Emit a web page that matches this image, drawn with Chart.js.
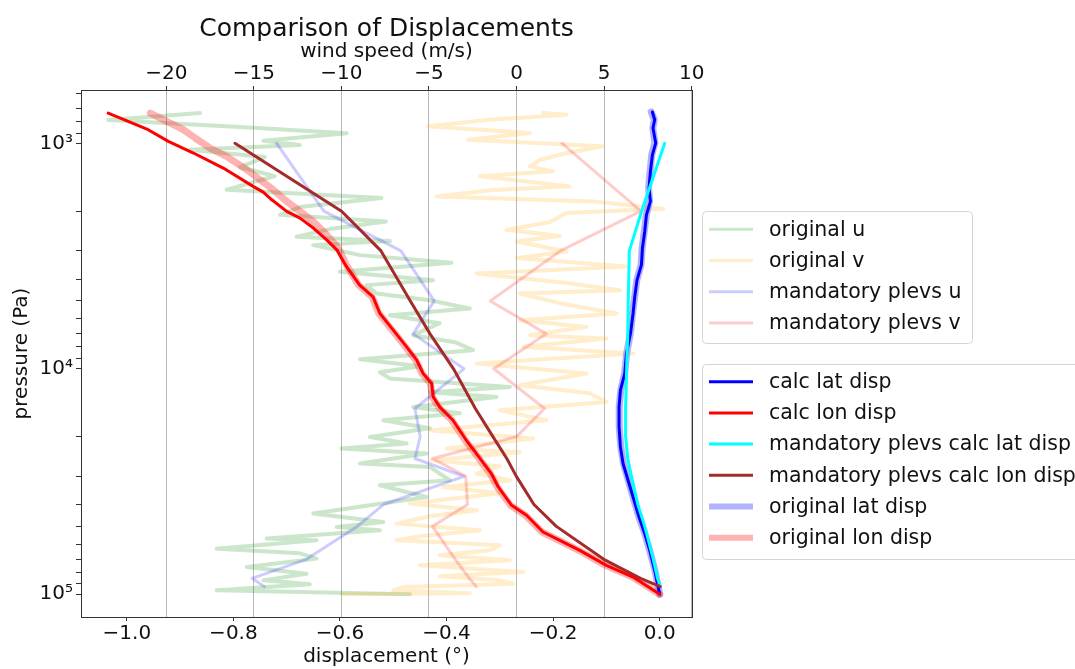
<!DOCTYPE html>
<html>
<head>
<meta charset="utf-8">
<script src="https://cdn.jsdelivr.net/npm/chart.js@4.4.0/dist/chart.umd.min.js"></script>
<style>
  html, body { margin: 0; padding: 0; background: #fff; }
  canvas { display: block; }
</style>
</head>
<body>
<canvas id="chart" width="1075" height="669"></canvas>
<script>
// Sounding winds (m/s) against pressure (Pa)
const origUPres = [734, 788, 847, 903, 974, 1017, 1068, 1150, 1274, 1397, 1607, 1749, 1918, 2075, 2220, 2401, 2593, 2714, 2828, 3132,
  3388, 3715, 4044, 4255, 4633, 4962, 5400, 5783, 6277, 7095, 7619, 8270, 9065, 9739, 10354, 11042, 12033, 12703, 13326, 14757,
  15741, 16912, 18347, 20063, 21462, 22590, 23770, 26320, 27250, 31220, 32860, 37030, 40310, 43870, 47820, 50320, 52050, 56650, 57660, 62770,
  65860, 69500, 75730, 81030, 86770, 90360, 96090, 100000];
const origU = [-18.07, -23.31, -15.79, -9.70, -14.46, -12.37, -18.65, -14.37, -15.79, -13.80, -16.55, -7.71, -12.37, -13.51, -7.46, -10.66, -12.56, -7.23, -11.61, -8.94,
  -3.71, -10.09, -4.76, -8.56, -7.99, -4.95, -2.67, -7.23, -4.38, -5.90, -3.52, -2.48, -8.94, -5.52, -7.80, -7.23, -0.38, -4.95, -1.14, -5.90,
  -3.24, -7.61, -4.95, -8.37, -6.28, -9.99, -5.14, -8.94, -4.95, -3.81, -7.80, -5.14, -8.37, -11.61, -7.61, -10.27, -7.80, -14.27, -11.42, -17.12,
  -12.37, -11.42, -15.41, -11.99, -14.46, -11.80, -17.12, -6.09];

const origVPres = [734, 747, 786, 840, 900, 964, 1031, 1104, 1186, 1265, 1331, 1401, 1552, 1612, 1719, 1809, 1951, 2039, 2236, 2418,
  2579, 2723, 3016, 3229, 3516, 3776, 4127, 4479, 4633, 5116, 5683, 6085, 6517, 7095, 7339, 7993, 8554, 9473, 10493, 11825,
  12832, 14027, 15270, 16912, 18731, 20395, 22590, 23450, 25450, 27060, 29150, 31220, 33430, 35650, 39620, 42430, 45110, 48610, 52050, 55340,
  57660, 60670, 63850, 67200, 70710, 74440, 79710, 83290, 86770, 89740, 92920, 96090, 99080, 100000];
const origV = [1.52, 2.85, -1.52, -5.05, 0.76, -2.76, 4.94, 2.85, 1.33, 0.76, 2.09, -2.09, 3.04, -1.34, -4.57, 4.37, 8.37, 2.85, 1.90, -0.57,
  2.47, 0.00, 2.85, 0.00, 6.28, -2.28, 2.47, 5.90, 0.19, 2.47, 5.71, 0.19, 4.00, 0.76, 5.14, 0.38, 6.66, -2.28, 4.00, 0.19,
  4.18, 5.14, -0.95, 1.71, -4.95, 0.95, -4.00, 0.19, -4.85, -0.95, -2.28, -0.38, -4.19, -0.95, -6.09, -2.28, -4.95, -6.85, -2.09, -5.52,
  -6.85, -0.95, -1.52, -4.38, -0.38, -5.52, 0.38, -4.38, -0.95, -0.19, -6.47, -7.04, -2.67, -9.99];

// Mandatory pressure levels
const mandPres = [1000, 2000, 3000, 5000, 7000, 10000, 15000, 20000, 25000, 30000, 40000, 50000, 70000, 85000, 92500];
const mandU = [-13.7, -11.0, -6.6, -4.7, -5.9, -3.0, -5.8, -5.5, -5.8, -3.0, -7.6, -9.1, -12.0, -15.1, -14.4];
const mandV = [2.6, 7.1, 2.5, -1.5, 1.7, -1.3, 1.6, 0.0, -4.8, -2.9, -2.8, -4.8, -3.5, -2.7, -2.3];
const mandCalcLat = [0.0094, -0.034, -0.057, -0.059, -0.060, -0.062, -0.064, -0.064, -0.060, -0.053, -0.041, -0.028, -0.012, -0.004, 0.001];
const mandCalcLon = [-0.797, -0.597, -0.523, -0.468, -0.431, -0.387, -0.346, -0.313, -0.287, -0.269, -0.236, -0.194, -0.105, -0.036, 0.001];

// Displacements (degrees)
const calcLatPres = [726, 786, 855, 997, 1124, 1331, 1579, 1809, 2075, 2459, 2915, 3458, 4044, 4797, 5683, 6971, 8554, 10493, 12445, 14757,
  18111, 22220, 26320, 31220, 37030, 45440, 53830, 63850, 78330, 100000];
const calcLat = [-0.0137, -0.0094, -0.0126, -0.0075, -0.0137, -0.0174, -0.0201, -0.0174, -0.0249, -0.0281, -0.0324, -0.0343, -0.0426, -0.0469, -0.0500, -0.0549, -0.0624, -0.0656, -0.0737, -0.0763,
  -0.0763, -0.0737, -0.0688, -0.0594, -0.0500, -0.0388, -0.0281, -0.0188, -0.0094, 0.0];
const origLat = [-0.016, -0.010, -0.013, -0.009, -0.015, -0.018, -0.021, -0.019, -0.025, -0.029, -0.033, -0.035, -0.043, -0.047, -0.051, -0.055, -0.062, -0.066, -0.073, -0.076,
  -0.076, -0.073, -0.068, -0.059, -0.050, -0.039, -0.028, -0.019, -0.009, 0.0];

const calcLonPres = [734, 870, 980, 1104, 1287, 1552, 1645, 1780, 2003, 2146, 2376, 2679, 2967, 3516, 4255, 4797, 5683, 6740, 7993, 9158,
  10493, 11619, 13326, 14757, 16912, 20749, 23766, 29150, 33430, 40310, 44650, 52950, 56650, 63850, 74440, 83870, 100000];
const calcLon = [-1.035, -0.960, -0.922, -0.875, -0.819, -0.763, -0.744, -0.728, -0.700, -0.675, -0.650, -0.625, -0.606, -0.588, -0.563, -0.538, -0.525, -0.500, -0.475, -0.456,
  -0.444, -0.428, -0.425, -0.413, -0.388, -0.363, -0.344, -0.316, -0.303, -0.278, -0.250, -0.219, -0.194, -0.150, -0.100, -0.050, 0.0];

const origLonPres = [734, 786, 870, 947, 1049, 1142, 1310, 1450, 1607, 1809, 2003, 2220, 2545, 2915, 3458, 4255, 4797, 5683, 6740, 7993,
  9158, 10493, 11619, 13326, 14757, 16912, 20749, 23766, 29150, 33430, 40310, 44650, 52950, 56650, 63850, 74440, 83870, 100000];
const origLon = [-0.956, -0.931, -0.894, -0.872, -0.844, -0.813, -0.775, -0.750, -0.725, -0.700, -0.675, -0.650, -0.625, -0.603, -0.588, -0.565, -0.540, -0.527, -0.502, -0.477,
  -0.458, -0.446, -0.430, -0.427, -0.415, -0.390, -0.365, -0.346, -0.318, -0.305, -0.280, -0.252, -0.221, -0.196, -0.152, -0.102, -0.051, 0.0];

// Axis ticks
const dispTicks = [-1.0, -0.8, -0.6, -0.4, -0.2, 0.0];
const windTicks = [-20, -15, -10, -5, 0, 5, 10];
const pressureTicks = [1000, 10000, 100000];
const pressureLabels = ['10\u00b3', '10\u2074', '10\u2075'];

const FONT = 'DejaVu Sans';
const TEXT = '#111';
const SPINE = '#333';
Chart.defaults.font.family = FONT;
Chart.defaults.color = TEXT;

const minus = (v, d) => (v < 0 ? '\u2212' : '') + Math.abs(v).toFixed(d);

// minor log ticks between 600 and 1e5
const yTickValues = [];
for (let dec = 100; dec <= 10000; dec *= 10) {
  for (let m = 1; m <= 9; m++) {
    const v = m * dec;
    if (v >= 600) yTickValues.push(v);
  }
}
yTickValues.push(100000);

function series(label, xs, ps, color, width, axis, order, group, legendWidth) {
  return {
    label, group, legendWidth,
    data: xs.map((v, i) => ({ x: v, y: ps[i] })),
    xAxisID: axis, yAxisID: 'y', order,
    borderColor: color, backgroundColor: color, borderWidth: width,
    showLine: true, pointRadius: 0, pointHoverRadius: 0, tension: 0,
    borderJoinStyle: 'round', borderCapStyle: 'round', fill: false
  };
}

const datasets = [
  series('original u', origU, origUPres, 'rgba(0,128,0,0.2)', 4, 'x2', 10, 1, 3),
  series('original v', origV, origVPres, 'rgba(255,165,0,0.2)', 4, 'x2', 9, 1, 3),
  series('mandatory plevs u', mandU, mandPres, 'rgba(0,0,255,0.2)', 3, 'x2', 8, 1, 3),
  series('mandatory plevs v', mandV, mandPres, 'rgba(255,0,0,0.2)', 3, 'x2', 7, 1, 3),
  series('calc lat disp', calcLat, calcLatPres, '#0000ff', 3, 'x', 4, 2, 3),
  series('calc lon disp', calcLon, calcLonPres, '#ff0000', 3, 'x', 1, 2, 3),
  series('mandatory plevs calc lat disp', mandCalcLat, mandPres, '#00ffff', 3, 'x', 3, 2, 3),
  series('mandatory plevs calc lon disp', mandCalcLon, mandPres, '#a52a2a', 3, 'x', 2, 2, 3),
  series('original lat disp', origLat, calcLatPres, 'rgba(0,0,255,0.3)', 7, 'x', 6, 2, 6),
  series('original lon disp', origLon, origLonPres, 'rgba(255,0,0,0.3)', 7, 'x', 5, 2, 6)
];

// two framed legends to the right of the axes
const legendBoxes = {
  id: 'legendBoxes',
  afterDraw(chart) {
    const ctx = chart.ctx;
    const boxes = [
      { group: 1, x: 702.5, y: 211.5, w: 270, h: 132, first: 229.3 },
      { group: 2, x: 702.5, y: 364.5, w: 420, h: 195, first: 381.7 }
    ];
    ctx.save();
    boxes.forEach(b => {
      ctx.beginPath();
      ctx.roundRect(b.x, b.y, b.w, b.h, 4);
      ctx.fillStyle = 'rgba(255,255,255,0.8)';
      ctx.fill();
      ctx.strokeStyle = '#d4d4d4';
      ctx.lineWidth = 1;
      ctx.stroke();
      chart.data.datasets.filter(d => d.group === b.group).forEach((d, i) => {
        const y = b.first + i * 31.2;
        ctx.beginPath();
        ctx.moveTo(709, y);
        ctx.lineTo(753, y);
        ctx.lineCap = 'butt';
        ctx.strokeStyle = d.borderColor;
        ctx.lineWidth = d.legendWidth;
        ctx.stroke();
        ctx.font = '20.5px "' + FONT + '"';
        ctx.fillStyle = TEXT;
        ctx.textBaseline = 'middle';
        ctx.fillText(d.label, 769, y + 1);
      });
    });
    ctx.restore();
  }
};

const axisFont = { size: 20 };

new Chart(document.getElementById('chart'), {
  type: 'scatter',
  data: { datasets },
  plugins: [legendBoxes],
  options: {
    responsive: false,
    animation: false,
    devicePixelRatio: 1,
    layout: { padding: { left: 0, right: 383, top: 0, bottom: 0 } },
    plugins: {
      legend: { display: false },
      tooltip: { enabled: false },
      title: {
        display: true,
        fullSize: false,
        text: 'Comparison of Displacements',
        color: TEXT,
        font: { size: 25, weight: 'normal' },
        padding: { top: 14, bottom: 0 }
      }
    },
    scales: {
      x: {
        type: 'linear', position: 'bottom', bounds: 'data',
        min: -1.086, max: 0.0606,
        afterBuildTicks: s => { s.ticks = dispTicks.map(v => ({ value: v })); },
        afterFit: s => { s.height = 52; },
        ticks: { callback: v => minus(v, 1), font: axisFont, color: TEXT, padding: 1, autoSkip: false, maxRotation: 0 },
        grid: { drawOnChartArea: false, drawTicks: true, tickLength: 4, tickColor: SPINE },
        border: { display: true, color: SPINE, width: 1 },
        title: { display: true, text: 'displacement (\u00b0)', font: axisFont, color: TEXT, padding: { top: 0, bottom: 0 } }
      },
      x2: {
        type: 'linear', position: 'top', bounds: 'data',
        min: -24.87, max: 10.02,
        afterBuildTicks: s => { s.ticks = windTicks.map(v => ({ value: v })); },
        afterFit: s => { s.height = 46; },
        ticks: { callback: v => minus(v, 0), font: axisFont, color: TEXT, padding: 0, autoSkip: false, maxRotation: 0 },
        grid: { drawOnChartArea: true, color: '#b8b8b8', lineWidth: 1, drawTicks: true, tickLength: 4, tickColor: SPINE },
        border: { display: true, color: SPINE, width: 1 },
        title: { display: true, text: 'wind speed (m/s)', font: axisFont, color: TEXT, padding: { top: -4, bottom: 0 } }
      },
      y: {
        type: 'logarithmic', position: 'left', reverse: true, bounds: 'data',
        min: 580, max: 126150,
        afterBuildTicks: s => { s.ticks = yTickValues.map(v => ({ value: v, major: pressureTicks.includes(v) })); },
        afterFit: s => { s.width = 81; },
        ticks: {
          callback: v => { const i = pressureTicks.indexOf(v); return i >= 0 ? pressureLabels[i] : ''; },
          font: axisFont, color: TEXT, padding: 3, autoSkip: false, maxRotation: 0
        },
        grid: { drawOnChartArea: false, drawTicks: true, tickLength: 5, tickColor: SPINE },
        border: { display: true, color: SPINE, width: 1 },
        title: { display: true, text: 'pressure (Pa)', font: axisFont, color: TEXT, padding: { top: 10, bottom: 0 } }
      },
      y2: {
        type: 'linear', position: 'right',
        afterFit: s => { s.width = 0; },
        ticks: { display: false },
        grid: { display: false },
        border: { display: true, color: SPINE, width: 1 }
      }
    }
  }
});
</script>
</body>
</html>
